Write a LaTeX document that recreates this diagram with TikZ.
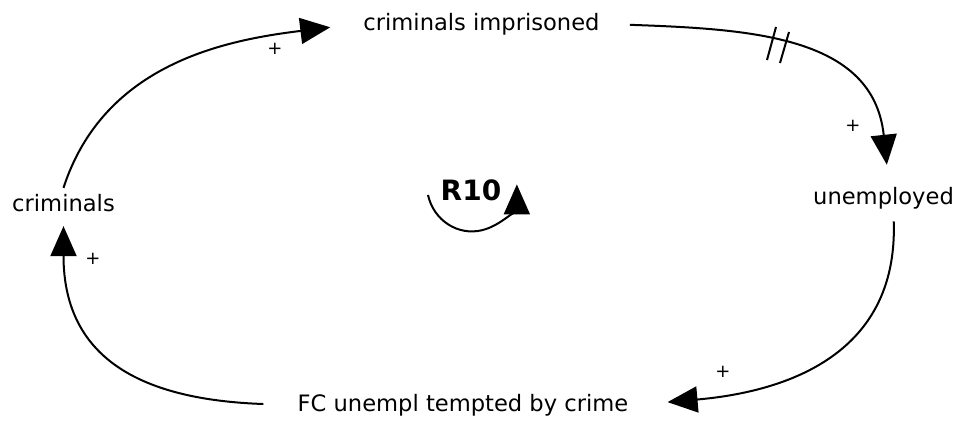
\documentclass[tikz,border=0pt]{standalone}
\usepackage{fontspec}
\setmainfont{DejaVu Sans}
\usetikzlibrary{arrows.meta}

\begin{document}
\begin{tikzpicture}[x=0.5pt,y=0.5pt,
    var/.style={font=\fontsize{11.3}{13}\selectfont,inner sep=3pt},
    sign/.style={font=\fontsize{9}{10}\selectfont,inner sep=0pt},
    link/.style={line width=1pt,-{Triangle[length=15pt,width=13pt]}}]
  \useasboundingbox (0,0) rectangle (962,426);
  % variables
  \node[var] (imprisoned) at (481.5,402) {criminals imprisoned};
  \node[var] (unemployed) at (883.5,228) {unemployed};
  \node[var] (tempted) at (463,21) {FC unempl tempted by crime};
  \node[var] (criminals) at (63.5,223) {criminals};
  \node[font=\fontsize{14}{16}\selectfont\bfseries] (r10) at (471,236) {R10};
  % links
  \draw[link,shorten >=13.5pt] (criminals.north) to[out=72,in=187] (imprisoned.west);
  \draw[link,shorten <=12pt,shorten >=8pt] (imprisoned.east) to[out=-2,in=96,looseness=1.15] ([xshift=2.5pt]unemployed.north);
  \draw[link,shorten <=3pt,shorten >=16.5pt] ([xshift=5pt]unemployed.south) to[out=-88,in=5,looseness=1.15] (tempted.east);
  \draw[link,shorten <=14pt,shorten >=4pt] (tempted.west) to[out=178,in=-90,looseness=1.25] (criminals.south);
  % delay on the link to unemployed
  \draw[line width=1pt] (767,366) -- (776,399) (780,363) -- (789,394);
  % polarities
  \node[sign] (s1) at (275,377) {+};
  \node[sign] (s2) at (853,300) {+};
  \node[sign] (s3) at (723,54) {+};
  \node[sign] (s4) at (93,167) {+};
  % loop symbol
  \draw[link] (428,231) arc[start angle=193,end angle=360,x radius=45,y radius=47];
\end{tikzpicture}
\end{document}
